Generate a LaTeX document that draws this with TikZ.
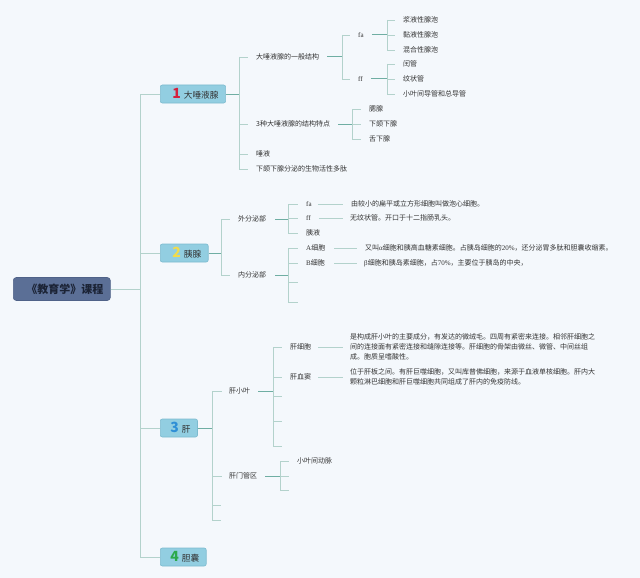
\documentclass[tikz,border=0pt]{standalone}
\usepackage{fontspec}
\setmainfont{Noto Sans CJK SC}
\newfontfamily\lat{Liberation Serif}
\definecolor{bg}{HTML}{F4F8FC}
\definecolor{ltline}{HTML}{B3D2CC}
\definecolor{dkline}{HTML}{6FAEA3}
\definecolor{txt}{HTML}{333333}
\definecolor{boxfill}{HTML}{92CEE1}
\definecolor{boxline}{HTML}{7DBBCF}
\definecolor{rootfill}{HTML}{5B6F96}
\definecolor{rootline}{HTML}{4F6288}
\definecolor{roottxt}{HTML}{1B2335}
\definecolor{numred}{HTML}{D4203C}
\definecolor{numyel}{HTML}{F2DC4B}
\definecolor{numblue}{HTML}{2F8FD6}
\definecolor{numgreen}{HTML}{2CA94C}
\newcommand\topicnum[2]{{\color{#1}\bfseries\fontsize{14}{14}\selectfont #2}}
\tikzset{
  lt/.style={draw=ltline, line width=0.8pt},
  dk/.style={draw=dkline, line width=1pt},
  leaf/.style={anchor=west, inner sep=0pt, text=txt, font=\fontsize{7}{9.7}\selectfont},
  para/.style={leaf, align=left},
  topic/.style={anchor=west, fill=boxfill, draw=boxline, line width=0.6pt, rounded corners=2pt,
    inner xsep=7pt, inner ysep=0pt, minimum height=18pt, text=txt, font=\fontsize{8.7}{10}\selectfont},
  rootbox/.style={anchor=west, fill=rootfill, draw=rootline, line width=0.6pt, rounded corners=3pt,
    inner xsep=7pt, inner ysep=0pt, minimum height=23pt, text=roottxt, font=\bfseries\fontsize{11}{12}\selectfont},
}
\begin{document}
\begin{tikzpicture}[x=1pt,y=-1pt]
\useasboundingbox (0,0) rectangle (640,578);
\fill[bg] (0,0) rectangle (640,578);

% root and topics
\node[rootbox] (R) at (13,289) {\hspace{6pt}《教育学》课程};
\node[topic] (L1) at (160,94) {\hspace{5pt}\topicnum{numred}{1}\hspace{3pt}大唾液腺};
\node[topic] (L2) at (160,253) {\hspace{5pt}\topicnum{numyel}{2}\hspace{3pt}胰腺};
\node[topic] (L3) at (160,428) {\hspace{3pt}\topicnum{numblue}{3}\hspace{3pt}肝};
\node[topic] (L4) at (160,557) {\hspace{3pt}\topicnum{numgreen}{4}\hspace{3pt}胆囊};
\coordinate (T) at (140,0);
\draw[lt] (R.east) -- (R.east -| T);
\draw[lt] (T |- L1.west) -- (T |- L4.west);
\foreach \c in {L1,L2,L3,L4} \draw[lt] (T |- \c.west) -- (\c.west);

% ---------- branch 1
\coordinate (b1) at (239,0);
\node[leaf] (n11) at (256,57) {大唾液腺的一般结构};
\node[leaf] (n12) at (256,124) {3种大唾液腺的结构特点};
\node[leaf] (n13) at (256,154) {唾液};
\node[leaf] (n14) at (256,169) {下颌下腺分泌的生物活性多肽};
\draw[dk] (L1.east) -- (L1.east -| b1);
\draw[lt] (b1 |- n11.west) -- (b1 |- n14.west);
\foreach \c in {n11,n12,n13,n14} \draw[lt] (b1 |- \c.west) -- ([xshift=-8pt]\c.west);

\coordinate (b11) at (342,0);
\node[leaf] (fa1) at (358,35) {\lat fa};
\node[leaf] (ff1) at (358,79) {\lat ff};
\draw[dk] ([xshift=8pt]n11.east) -- (n11.east -| b11);
\draw[lt] (b11 |- fa1.west) -- (b11 |- ff1.west);
\foreach \c in {fa1,ff1} \draw[lt] (b11 |- \c.west) -- ([xshift=-8pt]\c.west);

\coordinate (b111) at (387,0);
\node[leaf] (a1) at (403,20) {浆液性腺泡};
\node[leaf] (a2) at (403,35) {黏液性腺泡};
\node[leaf] (a3) at (403,50) {混合性腺泡};
\draw[dk] ([xshift=8pt]fa1.east) -- (fa1.east -| b111);
\draw[lt] (b111 |- a1.west) -- (b111 |- a3.west);
\foreach \c in {a1,a2,a3} \draw[lt] (b111 |- \c.west) -- ([xshift=-8pt]\c.west);

\node[leaf] (f1) at (403,64) {闰管};
\node[leaf] (f2) at (403,79) {纹状管};
\node[leaf] (f3) at (403,94) {小叶间导管和总导管};
\draw[dk] ([xshift=8pt]ff1.east) -- (ff1.east -| b111);
\draw[lt] (b111 |- f1.west) -- (b111 |- f3.west);
\foreach \c in {f1,f2,f3} \draw[lt] (b111 |- \c.west) -- ([xshift=-8pt]\c.west);

\coordinate (b12) at (352,0);
\node[leaf] (g1) at (369,109) {腮腺};
\node[leaf] (g2) at (369,124) {下颌下腺};
\node[leaf] (g3) at (369,139) {舌下腺};
\draw[dk] ([xshift=8pt]n12.east) -- (n12.east -| b12);
\draw[lt] (b12 |- g1.west) -- (b12 |- g3.west);
\foreach \c in {g1,g2,g3} \draw[lt] (b12 |- \c.west) -- ([xshift=-8pt]\c.west);

% ---------- branch 2
\coordinate (b2) at (221,0);
\node[leaf] (n21) at (238,219) {外分泌部};
\node[leaf] (n22) at (238,275) {内分泌部};
\draw[dk] (L2.east) -- (L2.east -| b2);
\draw[lt] (b2 |- n21.west) -- (b2 |- n22.west);
\foreach \c in {n21,n22} \draw[lt] (b2 |- \c.west) -- ([xshift=-8pt]\c.west);

\coordinate (b21) at (288,0);
\node[leaf] (fa2) at (306,204) {\lat fa};
\node[leaf] (ff2) at (306,218) {\lat ff};
\node[leaf] (yy) at (306,233) {胰液};
\draw[dk] ([xshift=9pt]n21.east) -- (n21.east -| b21);
\draw[lt] (b21 |- fa2.west) -- (b21 |- yy.west);
\foreach \c in {fa2,ff2,yy} \draw[lt] (b21 |- \c.west) -- ([xshift=-8pt]\c.west);
\node[leaf] (d1) at (351,204) {由较小的扁平或立方形细胞叫做泡心细胞。};
\node[leaf] (d2) at (350,218) {无纹状管。开口于十二指肠乳头。};
\draw[lt] ([xshift=6pt]fa2.east) -- ([xshift=-8pt]d1.west);
\draw[lt] ([xshift=8pt]ff2.east) -- ([xshift=-7pt]d2.west);

\coordinate (b22) at (288,0);
\node[leaf] (ac) at (306,248) {{\lat A}细胞};
\node[leaf] (bc) at (306,263) {{\lat B}细胞};
\coordinate (e221) at (298,282);
\coordinate (e222) at (298,302);
\draw[dk] ([xshift=9pt]n22.east) -- (n22.east -| b22);
\draw[lt] (b22 |- ac.west) -- (b22 |- e222);
\foreach \c in {ac,bc} \draw[lt] (b22 |- \c.west) -- ([xshift=-8pt]\c.west);
\foreach \c in {e221,e222} \draw[lt] (b22 |- \c) -- (\c);
\node[leaf] (d3) at (365,248) {又叫{\lat α}细胞和胰高血糖素细胞。占胰岛细胞的{\lat 20\%}，还分泌胃多肽和胆囊收缩素。};
\node[leaf] (d4) at (364,263) {{\lat β}细胞和胰岛素细胞，占{\lat 70\%}，主要位于胰岛的中央，};
\draw[lt] ([xshift=9pt]ac.east) -- ([xshift=-8pt]d3.west);
\draw[lt] ([xshift=9pt]bc.east) -- ([xshift=-7pt]d4.west);

% ---------- branch 3
\coordinate (b3) at (212,0);
\node[leaf] (n31) at (229,391) {肝小叶};
\node[leaf] (n32) at (229,476) {肝门管区};
\coordinate (e31) at (221,505);
\coordinate (e32) at (221,520);
\draw[dk] (L3.east) -- (L3.east -| b3);
\draw[lt] (b3 |- n31.west) -- (b3 |- e32);
\foreach \c in {n31,n32} \draw[lt] (b3 |- \c.west) -- ([xshift=-7pt]\c.west);
\foreach \c in {e31,e32} \draw[lt] (b3 |- \c) -- (\c);

\coordinate (b31) at (273,0);
\node[leaf] (gx) at (290,347) {肝细胞};
\node[leaf] (gd) at (290,377) {肝血窦};
\coordinate (e311) at (282,396);
\coordinate (e312) at (282,421);
\coordinate (e313) at (282,446);
\draw[dk] ([xshift=8pt]n31.east) -- (n31.east -| b31);
\draw[lt] (b31 |- gx.west) -- (b31 |- e313);
\foreach \c in {gx,gd} \draw[lt] (b31 |- \c.west) -- ([xshift=-8pt]\c.west);
\foreach \c in {e311,e312,e313} \draw[lt] (b31 |- \c) -- (\c);
\node[para] (d5) at (350,347) {是构成肝小叶的主要成分，有发达的微绒毛。四周有紧密来连接。相邻肝细胞之\\间的连接面有紧密连接和缝隙连接等。肝细胞的骨架由微丝、微管、中间丝组\\成。胞质呈嗜酸性。};
\node[para] (d6) at (350,377) {位于肝板之间。有肝巨噬细胞，又叫库普佛细胞，来源于血液单核细胞。肝内大\\颗粒淋巴细胞和肝巨噬细胞共同组成了肝内的免疫防线。};
\draw[lt] ([xshift=7pt]gx.east) -- ([xshift=-7pt]d5.west);
\draw[lt] ([xshift=7pt]gd.east) -- ([xshift=-7pt]d6.west);

\coordinate (b32) at (280,0);
\node[leaf] (xd) at (297,461) {小叶间动脉};
\coordinate (e321) at (289,476);
\coordinate (e322) at (289,490);
\draw[dk] ([xshift=8pt]n32.east) -- (n32.east -| b32);
\draw[lt] (b32 |- xd.west) -- (b32 |- e322);
\draw[lt] (b32 |- xd.west) -- ([xshift=-8pt]xd.west);
\foreach \c in {e321,e322} \draw[lt] (b32 |- \c) -- (\c);
\end{tikzpicture}
\end{document}
